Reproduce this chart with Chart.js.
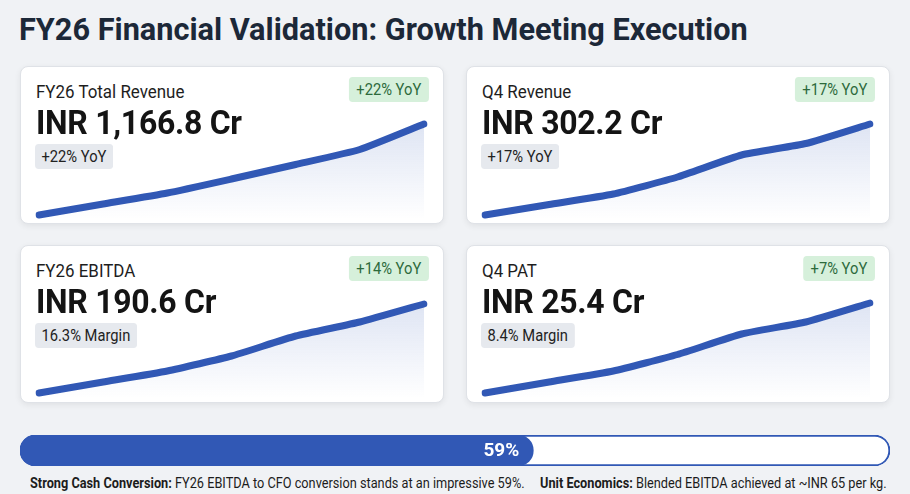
<!DOCTYPE html>
<html>
<head>
<meta charset="utf-8">
<script src="https://cdn.jsdelivr.net/npm/chart.js@4/dist/chart.umd.min.js"></script>
<style>
  html, body { margin: 0; padding: 0; }
  body { width: 910px; height: 494px; background: #f0f2f5; font-family: Roboto, "Noto Sans", sans-serif; position: relative; overflow: hidden; }
  h1 { position: absolute; left: 19px; top: 15px; margin: 0; font-size: 30.7px; line-height: 1; font-weight: 700; color: #1c2838; white-space: nowrap; }
  .card { position: absolute; width: 424px; height: 158px; background: #fff; border: 1px solid #dfe2e7; border-radius: 8px; box-shadow: 0 2px 6px rgba(0,0,0,0.07); box-sizing: border-box; }
  .card canvas { position: absolute; left: 0; top: 40px; }
  .label { position: absolute; left: 15px; top: 16px; font-size: 18px; line-height: 1; color: #1e1e1e; white-space: nowrap; transform: scaleX(0.94); transform-origin: left; }
  .value { position: absolute; left: 15px; top: 38px; font-size: 34px; line-height: 1; font-weight: 700; color: #141414; white-space: nowrap; letter-spacing: -0.3px; transform: scaleX(0.94); transform-origin: left; }
  .sub { position: absolute; left: 14px; top: 77px; height: 25px; line-height: 25px; padding: 0 7px; background: #e6e9ee; border-radius: 4px; font-size: 16px; color: #222; white-space: nowrap; transform: scaleX(0.92); transform-origin: left; }
  .badge { position: absolute; right: 14px; top: 10px; height: 25px; line-height: 25px; padding: 0 8px; background: #d6f0db; border-radius: 4px; font-size: 16px; color: #2d6a3b; white-space: nowrap; transform: scaleX(0.92); transform-origin: right; }
  #progress { position: absolute; left: 20px; top: 435px; }
  .foot { position: absolute; top: 475px; font-size: 14px; line-height: 16px; color: #1c1c1c; white-space: nowrap; transform: scaleX(0.91); transform-origin: left; }
  .foot b { font-weight: 700; }
</style>
</head>
<body>
<h1>FY26 Financial Validation: Growth Meeting Execution</h1>

<div class="card" style="left:20px; top:66px;">
  <canvas id="c1" width="424" height="118"></canvas>
  <div class="label">FY26 Total Revenue</div>
  <div class="value">INR 1,166.8 Cr</div>
  <div class="sub">+22% YoY</div>
  <div class="badge">+22% YoY</div>
</div>
<div class="card" style="left:466px; top:66px;">
  <canvas id="c2" width="424" height="118"></canvas>
  <div class="label">Q4 Revenue</div>
  <div class="value">INR 302.2 Cr</div>
  <div class="sub">+17% YoY</div>
  <div class="badge">+17% YoY</div>
</div>
<div class="card" style="left:20px; top:245px;">
  <canvas id="c3" width="424" height="118"></canvas>
  <div class="label">FY26 EBITDA</div>
  <div class="value">INR 190.6 Cr</div>
  <div class="sub">16.3% Margin</div>
  <div class="badge">+14% YoY</div>
</div>
<div class="card" style="left:466px; top:245px;">
  <canvas id="c4" width="424" height="118"></canvas>
  <div class="label">Q4 PAT</div>
  <div class="value">INR 25.4 Cr</div>
  <div class="sub">8.4% Margin</div>
  <div class="badge">+7% YoY</div>
</div>

<canvas id="progress" width="870" height="31"></canvas>
<div class="foot" style="left:30px;"><b>Strong Cash Conversion:</b> FY26 EBITDA to CFO conversion stands at an impressive 59%.</div>
<div class="foot" style="left:540px;"><b>Unit Economics:</b> Blended EBITDA achieved at ~INR 65 per kg.</div>

<script>
// sparkline trend points (relative index)
const periods = ["P1", "P2", "P3", "P4", "P5", "P6", "P7"];
const revenueTrend = [4, 15, 26, 40, 54.5, 69.5, 95];
const q4RevenueTrend = [4, 14.5, 25, 42, 64, 75.5, 95];
const ebitdaTrend = [5, 16, 27, 42, 62, 76, 94];
const patTrend = [5, 16, 27, 43.5, 64, 76, 95];

const cashConversion = 59;
const progressMax = 100;

const blue = "#3158b5";

function spark(id, values) {
  new Chart(document.getElementById(id), {
    type: "line",
    data: {
      labels: periods,
      datasets: [{
        data: values,
        borderColor: blue,
        borderWidth: 7,
        borderCapStyle: "round",
        borderJoinStyle: "round",
        pointRadius: 0,
        tension: 0.15,
        fill: "origin",
        backgroundColor: (ctx) => {
          const area = ctx.chart.chartArea;
          if (!area) return "rgba(49,88,181,0.1)";
          const g = ctx.chart.ctx.createLinearGradient(0, area.top, 0, area.bottom);
          g.addColorStop(0, "rgba(49,88,181,0.17)");
          g.addColorStop(1, "rgba(49,88,181,0)");
          return g;
        }
      }]
    },
    options: {
      responsive: false,
      animation: false,
      layout: { padding: { left: 18, right: 21, top: 12, bottom: 6 } },
      plugins: { legend: { display: false }, tooltip: { enabled: false } },
      scales: {
        x: { display: false },
        y: { display: false, min: 0, max: 100 }
      }
    }
  });
}

spark("c1", revenueTrend);
spark("c2", q4RevenueTrend);
spark("c3", ebitdaTrend);
spark("c4", patTrend);

const pctLabel = {
  id: "pctLabel",
  afterDatasetsDraw(chart) {
    const bar = chart.getDatasetMeta(0).data[0];
    const c = chart.ctx;
    c.save();
    c.fillStyle = "#fff";
    c.font = "700 19px Roboto";
    c.textAlign = "right";
    c.textBaseline = "middle";
    c.fillText(cashConversion + "%", bar.x - 14, bar.y + 1);
    c.restore();
  }
};

new Chart(document.getElementById("progress"), {
  type: "bar",
  data: {
    labels: ["CFO / EBITDA"],
    datasets: [
      { data: [cashConversion], backgroundColor: blue, borderRadius: 16, borderSkipped: false, order: 0 },
      { data: [progressMax], backgroundColor: "#fff", borderColor: blue, borderWidth: 2, borderRadius: 16, borderSkipped: false, order: 1 }
    ]
  },
  options: {
    indexAxis: "y",
    responsive: false,
    animation: false,
    datasets: { bar: { grouped: false, barPercentage: 1, categoryPercentage: 1 } },
    plugins: { legend: { display: false }, tooltip: { enabled: false } },
    scales: {
      x: { display: false, min: 0, max: progressMax },
      y: { display: false }
    }
  },
  plugins: [pctLabel]
});
</script>
</body>
</html>
